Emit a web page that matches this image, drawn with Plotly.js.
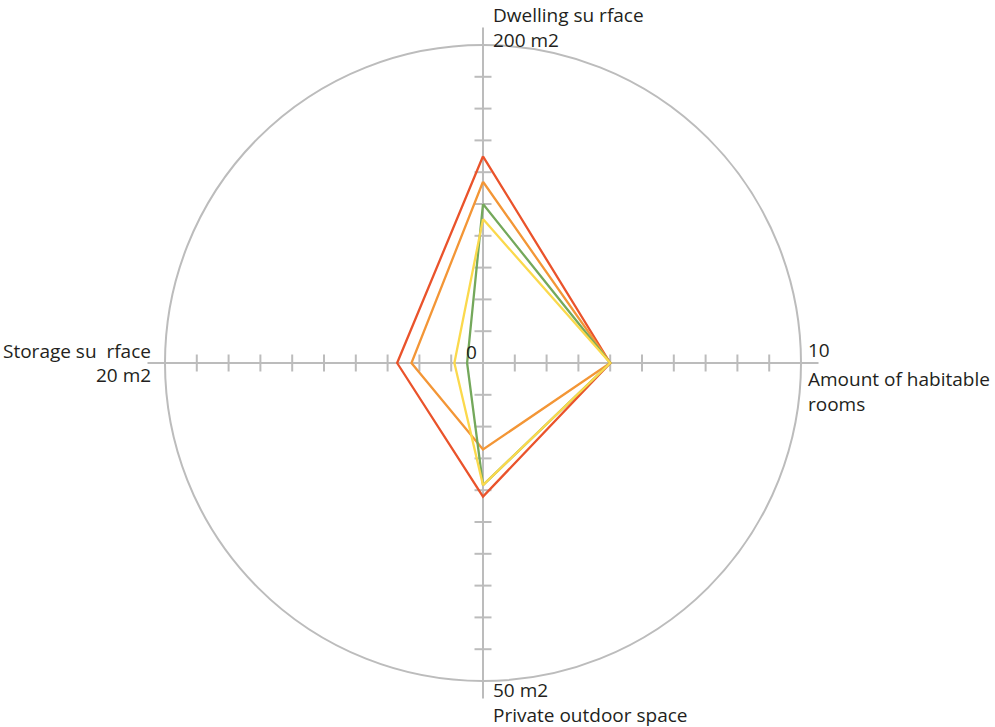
<!DOCTYPE html>
<html>
<head>
<meta charset="utf-8">
<script src="https://cdn.plot.ly/plotly-3.0.1.min.js"></script>
<style>
  html, body { margin: 0; padding: 0; background: #ffffff; }
  #chart { width: 995px; height: 727px; }
</style>
</head>
<body>
<div id="chart"></div>
<script>
// ---- data ----
const axisNames   = ['Dwelling su rface', 'Amount of habitable<br>rooms', 'Private outdoor space', 'Storage su  rface'];
const axisMaxima  = [200, 10, 50, 20];
const maxLabels   = ['200 m2', '10', '50 m2', '20 m2'];
const zeroLabel   = '0';
const seriesNames = ['Red', 'Orange', 'Green', 'Yellow'];
const redValues    = [130, 4, 21, 5.4];
const orangeValues = [114, 4, 13.6, 4.5];
const greenValues  = [100, 4, 19.2, 1.0];
const yellowValues = [90.5, 4, 19.2, 1.8];
const seriesValues = [redValues, orangeValues, greenValues, yellowValues];
const tickFractions = [0.1, 0.2, 0.3, 0.4, 0.5, 0.6, 0.7, 0.8, 0.9];

// ---- styling / layout ----
const W = 995, H = 727;
const colors = ['#ea532b', '#f39636', '#74a85b', '#fbd94c'];
const axisAngles = [90, 0, 270, 180];
const gray = '#bcbcbc';
const cx = 483, cy = 363, rad = 335.5;  // outer radius (axis length)
const outerRange = 1.055;
const dom = {
  x: [(cx - rad) / W, (cx + rad) / W],
  y: [(H - cy - rad) / H, (H - cy + rad) / H]
};
const fontFam = '"Open Sans", "Noto Sans", sans-serif';
const textColor = '#231f20';

const traces = [];
const layout = {
  width: W, height: H,
  margin: {l: 0, r: 0, t: 0, b: 0},
  paper_bgcolor: '#ffffff',
  showlegend: false,
  annotations: []
};

// tick-mark polars (both sides of each axis)
let pid = 1;
axisAngles.forEach(function (ang) {
  ['clockwise', 'counterclockwise'].forEach(function (side) {
    const key = pid === 1 ? 'polar' : 'polar' + pid;
    layout[key] = {
      domain: dom,
      bgcolor: 'rgba(0,0,0,0)',
      radialaxis: {
        range: [0, outerRange], angle: ang, side: side,
        tickmode: 'array', tickvals: tickFractions,
        ticks: 'outside', ticklen: 8, tickwidth: 2, tickcolor: gray,
        showticklabels: false, showline: false, showgrid: false
      },
      angularaxis: {visible: false}
    };
    traces.push({type: 'scatterpolar', subplot: key, r: [], theta: [], hoverinfo: 'skip'});
    pid++;
  });
});

// main polar (circle + cross + data), drawn last
const mainKey = 'polar' + pid;
layout[mainKey] = {
  domain: dom,
  bgcolor: 'rgba(0,0,0,0)',
  radialaxis: {
    range: [0, outerRange], tickmode: 'array', tickvals: [1],
    showticklabels: false, ticks: '', showline: false,
    showgrid: true, gridcolor: gray, gridwidth: 2
  },
  angularaxis: {
    rotation: 0, direction: 'counterclockwise',
    tickmode: 'array', tickvals: axisAngles,
    showticklabels: false, ticks: '', showline: false,
    showgrid: true, gridcolor: gray, gridwidth: 2
  }
};

seriesValues.forEach(function (vals, i) {
  const r = vals.map(function (v, k) { return v / axisMaxima[k]; });
  const th = axisAngles.slice();
  r.push(r[0]); th.push(th[0]);
  traces.push({
    type: 'scatterpolar', subplot: mainKey, name: seriesNames[i],
    r: r, theta: th, mode: 'lines',
    line: {color: colors[i], width: 2.3},
    hoverinfo: 'skip'
  });
});

// text labels
function ann(text, x, y, xa, ya, align) {
  layout.annotations.push({
    text: text, x: x / W, y: 1 - y / H, xref: 'paper', yref: 'paper',
    xanchor: xa, yanchor: ya, align: align || 'left', showarrow: false,
    font: {family: fontFam, size: 19, color: textColor}
  });
}
ann(axisNames[0] + '<br>' + maxLabels[0], 491, 0, 'left', 'top');
ann(maxLabels[1], 806, 350, 'left', 'middle');
ann(axisNames[1], 806, 364, 'left', 'top');
ann(maxLabels[2], 491, 690, 'left', 'middle');
ann(axisNames[2], 491, 715, 'left', 'middle');
ann(axisNames[3], 153, 351, 'right', 'middle', 'right');
ann(maxLabels[3], 153, 375, 'right', 'middle', 'right');
ann(zeroLabel, 471, 352, 'center', 'middle');

Plotly.newPlot('chart', traces, layout, {staticPlot: true, displayModeBar: false});
</script>
</body>
</html>
